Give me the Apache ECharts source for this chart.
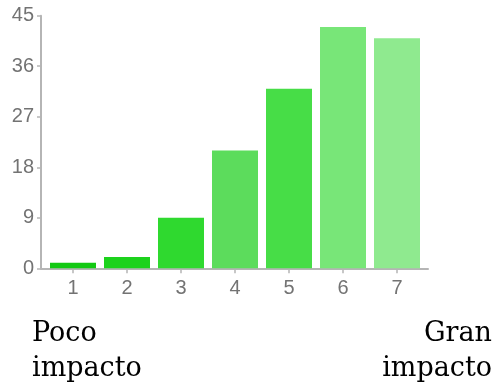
<!DOCTYPE html>
<html>
<head>
<meta charset="utf-8">
<script src="https://cdn.jsdelivr.net/npm/echarts@6/dist/echarts.min.js"></script>
<style>
html,body{margin:0;padding:0;background:#fff;}
#c{width:495px;height:392px;}
</style>
</head>
<body>
<div id="c"></div>
<script>
var categories = [1, 2, 3, 4, 5, 6, 7];
var values = [1, 2, 9, 21, 32, 43, 41];
var barColors = ['#12c912', '#1cd21c', '#2fd92f', '#5cdc5c', '#47dd47', '#78e678', '#8fea8f'];
var yTicks = [0, 9, 18, 27, 36, 45];
var leftLabel = ['Poco', 'impacto'];
var rightLabel = ['Gran', 'impacto'];

var chart = echarts.init(document.getElementById('c'), null, {renderer: 'canvas'});
var axisGrey = '#b5b5b5';
var labelGrey = '#737373';

var data = categories.map(function (c, i) {
  return {value: [c, values[i]], itemStyle: {color: barColors[i]}};
});

var graphics = [];
var serif = '"DejaVu Serif", serif';
leftLabel.forEach(function (t, i) {
  graphics.push({type: 'text', left: 32, top: 320 + i * 35,
    style: {text: t, font: '27px ' + serif, fill: '#000'}});
});
rightLabel.forEach(function (t, i) {
  graphics.push({type: 'text', right: 3, top: 320 + i * 35,
    style: {text: t, font: '27px ' + serif, fill: '#000'}});
});

chart.setOption({
  animation: false,
  grid: {left: 41, right: 67, top: 15.7, bottom: 123.7, containLabel: false},
  xAxis: {
    type: 'value', min: 0.4074, max: 7.574,
    axisLine: {show: true, lineStyle: {color: axisGrey, width: 2}},
    axisTick: {show: true, length: 5, customValues: categories, lineStyle: {color: axisGrey, width: 1.5}},
    axisLabel: {customValues: categories, margin: 10, color: labelGrey, fontSize: 20, fontFamily: 'Liberation Sans'},
    splitLine: {show: false}
  },
  yAxis: {
    type: 'value', min: 0, max: 45, interval: 9,
    axisLine: {show: true, lineStyle: {color: axisGrey, width: 2}},
    axisTick: {show: true, length: 4, lineStyle: {color: axisGrey, width: 1.5}},
    axisLabel: {margin: 7, color: labelGrey, fontSize: 20, fontFamily: 'Liberation Sans'},
    splitLine: {show: false}
  },
  series: [{
    type: 'bar',
    barWidth: 46,
    data: data
  }],
  graphic: graphics
});
</script>
</body>
</html>
